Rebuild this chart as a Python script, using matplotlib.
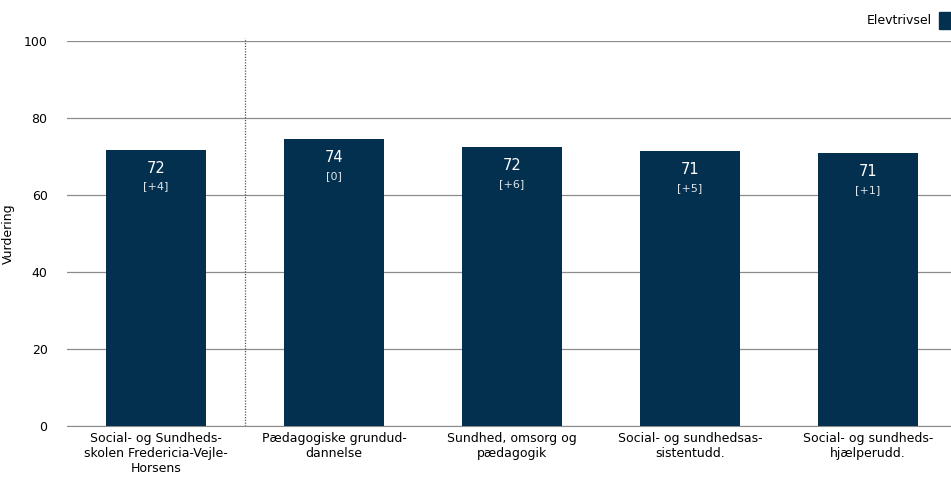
import matplotlib.pyplot as plt
import numpy as np
from matplotlib.patches import Rectangle

categories = [
    "Social- og Sundheds-\nskolen Fredericia-Vejle-\nHorsens",
    "Pædagogiske grundud-\ndannelse",
    "Sundhed, omsorg og\npædagogik",
    "Social- og sundhedsas-\nsistentudd.",
    "Social- og sundheds-\nhjælperudd.",
]
values = [71.7, 74.5, 72.4, 71.3, 70.8]
value_labels = ["72", "74", "72", "71", "71"]
change_labels = ["[+4]", "[0]", "[+6]", "[+5]", "[+1]"]
series_name = "Elevtrivsel"

color = "#03304f"

fig = plt.figure(figsize=(9.51, 4.87), dpi=100)
ax = fig.add_axes([67 / 951, 1 - 426 / 487, 884 / 951, 385 / 487])

x = np.arange(len(categories))
ax.bar(x, values, width=0.56, color=color, zorder=3)

for xi, v, vl, cl in zip(x, values, value_labels, change_labels):
    ax.text(xi, v - 4.7, vl, ha="center", va="center", color="white", fontsize=10.5, zorder=4)
    ax.text(xi, v - 9.5, cl, ha="center", va="center", color="#dfe6ec", fontsize=8, zorder=4)

ax.set_xlim(-0.5, 4.467)
ax.set_ylim(0, 100)
ax.set_yticks([0, 20, 40, 60, 80, 100])
ax.set_xticks(x)
ax.set_xticklabels(categories, fontsize=9)
ax.tick_params(axis="y", labelsize=9, length=0, pad=14)
ax.tick_params(axis="x", length=0, pad=4)
ax.yaxis.grid(True, color="#8c8c8c", linewidth=0.9, zorder=0)
ax.set_ylabel("Vurdering", fontsize=9)
ax.yaxis.set_label_coords(-0.059, 0.5)

for s in ["top", "right", "left"]:
    ax.spines[s].set_visible(False)
ax.spines["bottom"].set_color("#8c8c8c")

ax.plot([0.5, 0.5], [0, 100.8], color="#555555", linestyle=(0, (1, 1.2)), linewidth=0.9,
        clip_on=False, zorder=2)

# legend at top right
fig.text(932 / 951, 1 - 20 / 487, series_name, ha="right", va="center", fontsize=9)
fig.patches.append(Rectangle((939 / 951, 1 - 29 / 487), 12 / 951, 17 / 487,
                             transform=fig.transFigure, color=color))

fig.savefig("out.png", dpi=100)
